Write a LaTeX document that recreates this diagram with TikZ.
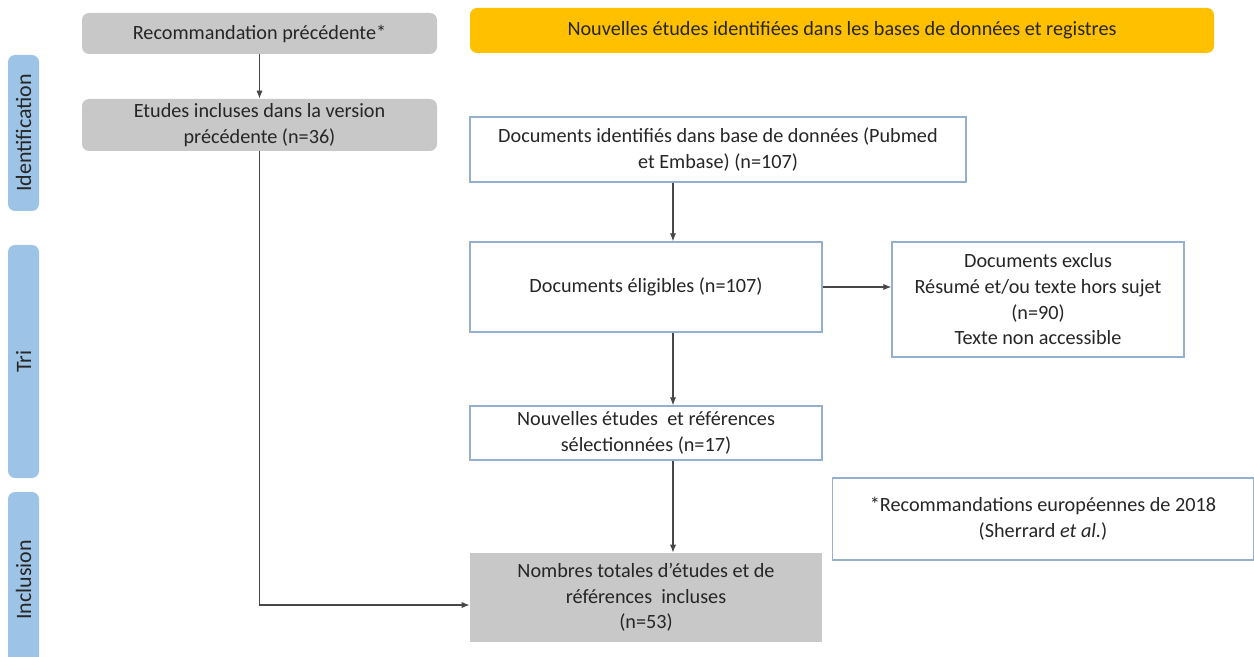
\documentclass[tikz,border=0pt]{standalone}
\usepackage{fontspec}
\setmainfont{Carlito}
\usepackage{tikz}
\usetikzlibrary{arrows.meta,positioning}
\definecolor{boxline}{HTML}{95B0CF}
\definecolor{greyfill}{HTML}{C8C8C8}
\definecolor{gold}{HTML}{FFC000}
\definecolor{sideblue}{HTML}{9DC3E6}
\definecolor{ink}{HTML}{262626}

\begin{document}
\begin{tikzpicture}[font=\fontsize{11.5}{14.6}\selectfont, text=ink, align=center, inner sep=0pt, line/.style={draw=ink!85, line width=0.6pt}, arr/.style={line, -{Latex[length=4.5pt, width=3.5pt]}}, whitebox/.style={rectangle, draw=boxline, line width=0.8pt, fill=white}, greybox/.style={rectangle, fill=greyfill, rounded corners=4pt}, phase/.style={rectangle, fill=sideblue, rounded corners=4pt, rotate=90, font=\fontsize{12.5}{15}\selectfont}]
  \useasboundingbox (0,0) rectangle (25.08,-13.14);
  \node[phase, minimum width=3.12cm, minimum height=0.62cm] (ident) at (0.47,-2.66) {Identification};
  \node[phase, minimum width=4.66cm, minimum height=0.62cm] (tri) at (0.47,-7.23) {Tri};
  \node[phase, minimum width=3.52cm, minimum height=0.62cm] (incl) at (0.47,-11.6) {Inclusion};
  \node[greybox, minimum width=7.1cm, minimum height=0.82cm] (prev) at (5.19,-0.67) {Recommandation précédente*};
  \node[greybox, minimum width=7.1cm, minimum height=1.04cm] (incprev) at (5.19,-2.5) {Etudes incluses dans la version\\précédente (n=36)};
  \node[rectangle, fill=gold, rounded corners=4pt, minimum width=14.88cm, minimum height=0.9cm] (newstud) at (16.84,-0.61) {Nouvelles études identifiées dans les bases de données et registres};
  \node[whitebox, minimum width=9.92cm, minimum height=1.3cm] (docid) at (14.36,-2.99) {Documents identifiés dans base de données (Pubmed\\et Embase) (n=107)};
  \node[whitebox, minimum width=7.04cm, minimum height=1.8cm] (elig) at (12.92,-5.74) {Documents éligibles (n=107)};
  \node[whitebox, minimum width=5.84cm, minimum height=2.3cm] (excl) at (20.76,-5.99) {Documents exclus\\Résumé et/ou texte hors sujet\\(n=90)\\Texte non accessible};
  \node[whitebox, minimum width=7.04cm, minimum height=1.08cm] (sel) at (12.92,-8.66) {Nouvelles études\ \ et références\\sélectionnées (n=17)};
  \node[whitebox, minimum width=8.42cm, minimum height=1.64cm] (note) at (20.86,-10.38) {*Recommandations européennes de 2018\\(Sherrard \textit{et al.})};
  \node[rectangle, fill=greyfill, minimum width=7.04cm, minimum height=1.78cm] (total) at (12.92,-11.95) {Nombres totales d’études et de\\références\ \ incluses\\(n=53)};
  \coordinate (trunk) at (13.46,0);
  \draw[arr] (prev) -- (incprev);
  \draw[arr] (incprev.south) |- ([yshift=-0.15cm]total.west);
  \draw[arr] (docid.south -| trunk) -- (elig.north -| trunk);
  \draw[arr] (elig.east) -- (elig.east -| excl.west);
  \draw[arr] (elig.south -| trunk) -- (sel.north -| trunk);
  \draw[arr] (sel.south -| trunk) -- (total.north -| trunk);
\end{tikzpicture}
\end{document}
